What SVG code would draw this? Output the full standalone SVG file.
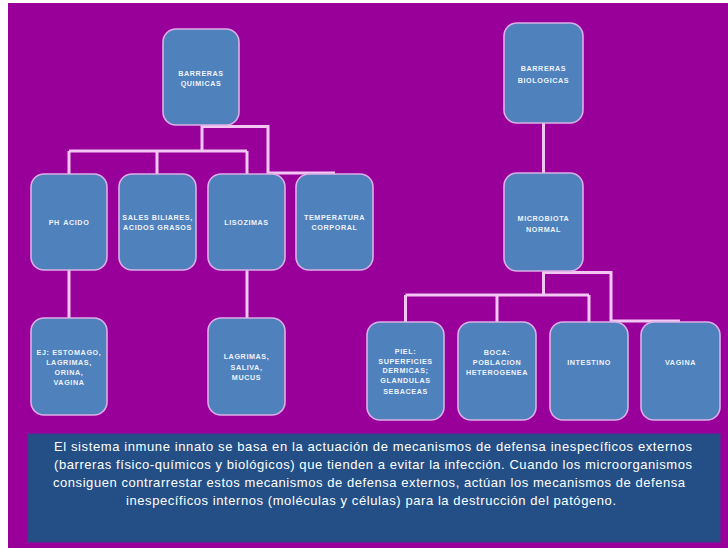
<svg xmlns="http://www.w3.org/2000/svg" width="728" height="548" viewBox="0 0 728 548">
  <style>
    .node rect { fill: #4f81bd; stroke: #dcaee8; stroke-width: 1.6; }
    .node text { font-family: "Liberation Sans", Arial, sans-serif; font-weight: bold; font-size: 7.2px; fill: #eef3fa; text-anchor: middle; letter-spacing: 0.6px; }
    #connectors path { fill: none; stroke: #f3c6f3; stroke-width: 3; stroke-linejoin: miter; }
    .note text { font-family: "Liberation Sans", Arial, sans-serif; font-size: 13px; fill: #ffffff; text-anchor: middle; }
  </style>
  <rect x="0" y="0" width="728" height="548" fill="#ffffff"/>
  <rect x="8" y="3" width="720" height="545" fill="#990099"/>

  <g id="connectors">
    <path d="M202 125 V151"/>
    <path d="M69 151 H247"/>
    <path d="M69 151 V174 M157 151 V174 M247 151 V174"/>
    <path d="M202 126.5 H268 V173 H335"/>
    <path d="M69 270 V318"/>
    <path d="M247 270 V318"/>
    <path d="M543.5 123 V173"/>
    <path d="M543.5 271 V295"/>
    <path d="M405.5 295 H589"/>
    <path d="M405.5 295 V322 M497 295 V322 M589 295 V322"/>
    <path d="M543.5 272.5 H611 V321 H680"/>
  </g>

  <g id="barreras-quimicas" class="node">
    <rect x="163" y="29" width="76" height="96" rx="13"/>
    <text x="201" y="76">BARRERAS</text>
    <text x="201" y="86">QUIMICAS</text>
  </g>
  <g id="ph-acido" class="node">
    <rect x="31" y="174" width="76" height="96" rx="13"/>
    <text x="69" y="225" style="word-spacing:1px">PH ACIDO</text>
  </g>
  <g id="sales-biliares" class="node">
    <rect x="119" y="174" width="77" height="96" rx="13"/>
    <text x="157.5" y="220">SALES BILIARES,</text>
    <text x="157.5" y="230">ACIDOS GRASOS</text>
  </g>
  <g id="lisozimas" class="node">
    <rect x="208" y="174" width="77" height="96" rx="13"/>
    <text x="246.5" y="225">LISOZIMAS</text>
  </g>
  <g id="temperatura-corporal" class="node">
    <rect x="296" y="174" width="77" height="96" rx="13"/>
    <text x="334.5" y="220">TEMPERATURA</text>
    <text x="334.5" y="230">CORPORAL</text>
  </g>
  <g id="ej-estomago" class="node">
    <rect x="31" y="318" width="76" height="97" rx="13"/>
    <text x="69" y="355">EJ: ESTOMAGO,</text>
    <text x="69" y="365">LAGRIMAS,</text>
    <text x="69" y="375">ORINA,</text>
    <text x="69" y="385">VAGINA</text>
  </g>
  <g id="lagrimas-saliva" class="node">
    <rect x="208" y="318" width="77" height="97" rx="13"/>
    <text x="246.5" y="359">LAGRIMAS,</text>
    <text x="246.5" y="370">SALIVA,</text>
    <text x="246.5" y="380">MUCUS</text>
  </g>

  <g id="barreras-biologicas" class="node">
    <rect x="504" y="23" width="79" height="100" rx="13"/>
    <text x="543.5" y="71">BARRERAS</text>
    <text x="543.5" y="83">BIOLOGICAS</text>
  </g>
  <g id="microbiota-normal" class="node">
    <rect x="504" y="173" width="79" height="98" rx="13"/>
    <text x="543.5" y="221">MICROBIOTA</text>
    <text x="543.5" y="232">NORMAL</text>
  </g>
  <g id="piel" class="node">
    <rect x="367" y="322" width="77" height="98" rx="13"/>
    <text x="405.5" y="354">PIEL:</text>
    <text x="405.5" y="364">SUPERFICIES</text>
    <text x="405.5" y="373">DERMICAS;</text>
    <text x="405.5" y="383">GLANDULAS</text>
    <text x="405.5" y="394">SEBACEAS</text>
  </g>
  <g id="boca" class="node">
    <rect x="458" y="322" width="78" height="98" rx="13"/>
    <text x="497" y="355">BOCA:</text>
    <text x="497" y="365">POBLACION</text>
    <text x="497" y="375">HETEROGENEA</text>
  </g>
  <g id="intestino" class="node">
    <rect x="550" y="322" width="78" height="98" rx="13"/>
    <text x="589" y="365">INTESTINO</text>
  </g>
  <g id="vagina" class="node">
    <rect x="641" y="322" width="79" height="98" rx="13"/>
    <text x="680.5" y="365">VAGINA</text>
  </g>

  <g id="descripcion" class="note">
    <rect x="28" y="434" width="692" height="108" fill="#234f86" stroke="#3a3f8f" stroke-width="1"/>
    <text x="373" y="451" textLength="638" lengthAdjust="spacing">El sistema inmune innato se basa en la actuación de mecanismos de defensa inespecíficos externos</text>
    <text x="373" y="469" textLength="638" lengthAdjust="spacing">(barreras físico-químicos y biológicos) que tienden a evitar la infección. Cuando los microorganismos</text>
    <text x="369" y="487" textLength="632" lengthAdjust="spacing">consiguen contrarrestar estos mecanismos de defensa externos, actúan los mecanismos de defensa</text>
    <text x="371" y="505" textLength="490" lengthAdjust="spacing">inespecíficos internos (moléculas y células) para la destrucción del patógeno.</text>
  </g>
</svg>
